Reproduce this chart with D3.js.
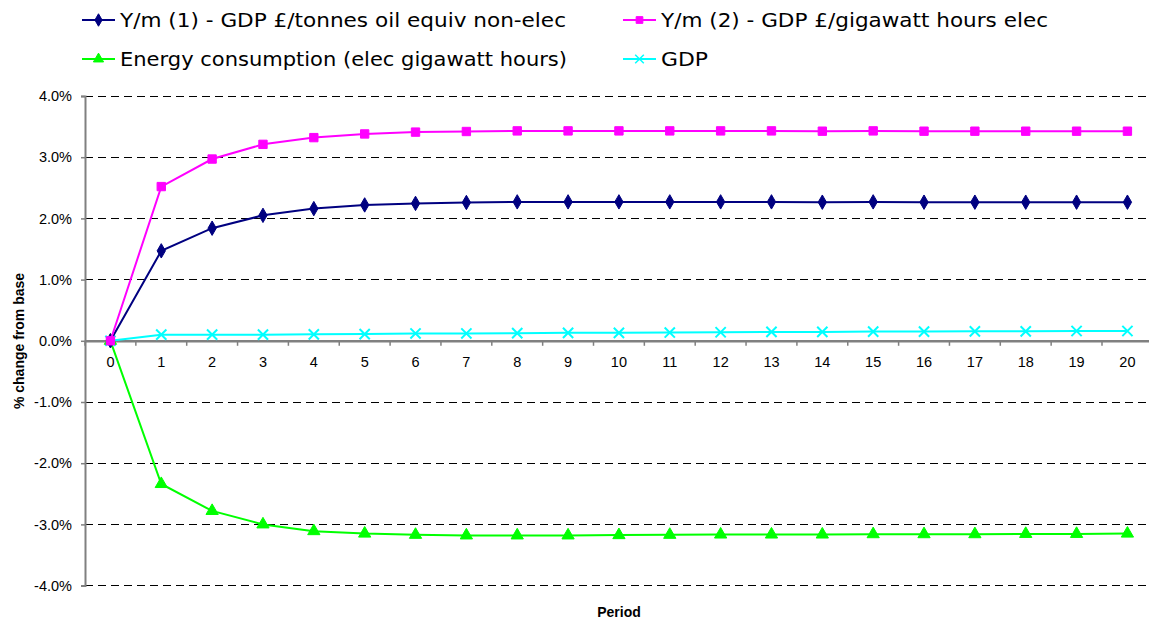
<!DOCTYPE html>
<html><head><meta charset="utf-8">
<script src="https://cdn.jsdelivr.net/npm/d3@7"></script>
<style>body{margin:0;background:#fff;} svg{display:block;font-family:"Liberation Sans",Arial,sans-serif;}</style>
</head><body>
<svg id="chart" width="1149" height="621"></svg>
<script>
const periods = d3.range(0, 21);
const seriesNames = ["Y/m (1) - GDP £/tonnes oil equiv non-elec","Y/m (2) - GDP £/gigawatt hours elec","Energy consumption (elec gigawatt hours)","GDP"];
const ym1 = [0,1.47,1.84,2.05,2.16,2.22,2.245,2.26,2.27,2.27,2.27,2.27,2.27,2.27,2.265,2.27,2.265,2.265,2.265,2.265,2.265];
const ym2 = [0,2.52,2.97,3.21,3.32,3.38,3.41,3.42,3.43,3.43,3.43,3.43,3.43,3.43,3.425,3.43,3.425,3.425,3.425,3.425,3.425];
const energy = [0,-2.34,-2.78,-3.00,-3.11,-3.15,-3.17,-3.18,-3.18,-3.18,-3.175,-3.17,-3.165,-3.165,-3.165,-3.16,-3.16,-3.16,-3.155,-3.155,-3.15];
const gdp = [0,0.10,0.10,0.10,0.105,0.11,0.12,0.12,0.125,0.13,0.13,0.135,0.14,0.145,0.145,0.15,0.15,0.155,0.155,0.16,0.16];
const yTicks = [4,3,2,1,0,-1,-2,-3,-4];
const colors = ["#000080","#FF00FF","#00FF00","#00FFFF"];
const symbols = [d3.symbolDiamond, d3.symbolSquare, d3.symbolTriangle, d3.symbolX];
const data = [ym1, ym2, energy, gdp];

const svg = d3.select("#chart");
const left = 85, bandW = 50.85;
const x = d3.scaleBand().domain(periods).range([left, left + bandW*periods.length]).paddingInner(0).paddingOuter(0);
const y = d3.scaleLinear().domain([-4,4]).range([585.6, 96]);
const cx = p => x(p) + x.bandwidth()/2;

// gridlines
svg.append("g").selectAll("line").data(yTicks).join("line")
  .attr("x1", left).attr("x2", 1149).attr("y1", d=>y(d)).attr("y2", d=>y(d))
  .attr("stroke", "#000").attr("stroke-width", 1).attr("stroke-dasharray", "8,5").attr("shape-rendering","crispEdges");

// y axis
const yAxis = d3.axisLeft(y).tickValues(yTicks).tickSize(4).tickPadding(9).tickFormat(d => d.toFixed(1) + "%");
const gy = svg.append("g").attr("transform", `translate(${left},0)`).call(yAxis);
gy.select(".domain").attr("stroke", "#808080").attr("stroke-width", 2);
gy.selectAll(".tick line").attr("stroke", "#808080").attr("stroke-width", 1.5);
gy.selectAll(".tick text").attr("font-size", 14.5).attr("fill", "#000");

// x axis at zero
const xAxis = d3.axisBottom(x).tickSize(0).tickPadding(16);
const gx = svg.append("g").attr("transform", `translate(0,${y(0)})`).call(xAxis);
gx.select(".domain").attr("stroke", "#808080").attr("stroke-width", 2.5);
gx.selectAll(".tick text").attr("font-size", 14.5).attr("fill", "#000");
// category boundary ticks
svg.append("g").selectAll("line").data(d3.range(0, periods.length+1)).join("line")
  .attr("x1", i => left + i*bandW).attr("x2", i => left + i*bandW)
  .attr("y1", y(0)).attr("y2", y(0)+5).attr("stroke", "#808080").attr("stroke-width", 1.5);

// series
const line = d3.line().x((d,i)=>cx(periods[i])).y(d=>y(d));
const order = [3,2,0,1];
order.forEach(k => {
  const g = svg.append("g");
  g.append("path").datum(data[k]).attr("d", line).attr("fill","none").attr("stroke", colors[k]).attr("stroke-width", 2);
  g.selectAll("path.m").data(data[k]).join("path").attr("class","m")
    .attr("transform", (d,i)=>`translate(${cx(periods[i])},${y(d)})`)
    .attr("d", d3.symbol().type(symbols[k]).size(k===0?60:k===1?70:k===2?65:70))
    .attr("fill", k===3 ? "none" : colors[k])
    .attr("stroke", colors[k]).attr("stroke-width", k===3?2:1);
});

// axis titles
svg.append("text").attr("x", 619).attr("y", 617).attr("text-anchor","middle")
  .attr("font-size", 14).attr("font-weight","bold").text("Period");
svg.append("text").attr("transform", `translate(24,341) rotate(-90)`).attr("text-anchor","middle")
  .attr("font-size", 14).attr("font-weight","bold").text("% change from base");

// legend
const legPos = [[82,20],[623,20],[82,59],[623,59]];
const legWidths = [446, 387, 447, 47];
seriesNames.forEach((name,k) => {
  const [lx, ly] = legPos[k];
  const g = svg.append("g").attr("transform", `translate(${lx},${ly})`);
  g.append("line").attr("x1",0).attr("x2",33).attr("y1",0).attr("y2",0).attr("stroke",colors[k]).attr("stroke-width",2);
  g.append("path").attr("transform","translate(16.5,0)")
    .attr("d", d3.symbol().type(symbols[k]).size(k===3?50:45))
    .attr("fill", k===3 ? "none" : colors[k]).attr("stroke", colors[k]).attr("stroke-width", k===3?1.5:1);
  g.append("text").attr("x", 38).attr("y", 7).attr("font-size", 20)
    .attr("font-family", "'DejaVu Sans', sans-serif")
    .attr("textLength", legWidths[k]).attr("lengthAdjust", "spacingAndGlyphs")
    .attr("fill","#000").text(name);
});
</script>
</body></html>
